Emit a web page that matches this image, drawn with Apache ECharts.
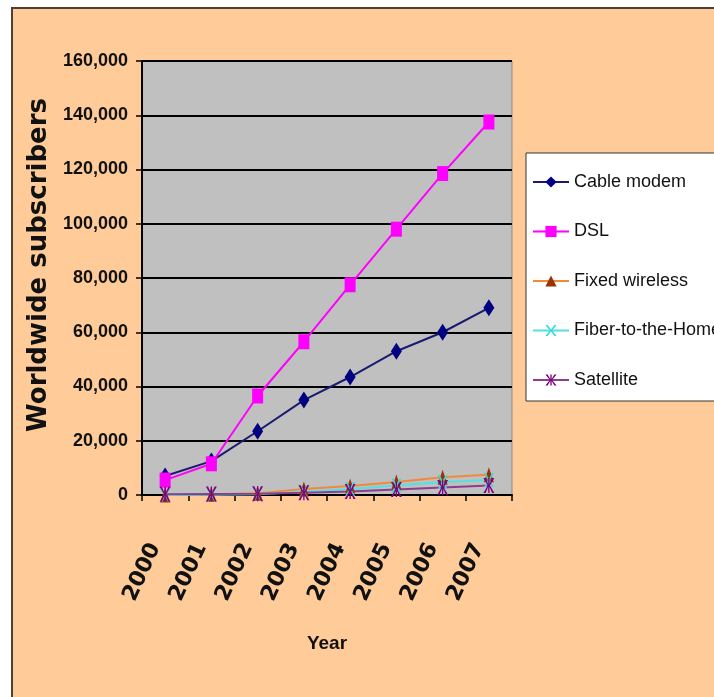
<!DOCTYPE html>
<html>
<head>
<meta charset="utf-8">
<script src="https://cdn.jsdelivr.net/npm/echarts@6/dist/echarts.min.js"></script>
<style>
  html, body { margin: 0; padding: 0; background: #fff; }
  .wrap { position: relative; width: 714px; height: 697px; overflow: hidden; background: #fff; }
  .frame {
    position: absolute; left: 11px; top: 7px; width: 800px; height: 800px;
    background: #FFCC99; border: 2px solid #4d4034;
  }
  #chart { position: absolute; left: 0; top: 0; width: 714px; height: 697px; }
</style>
</head>
<body>
<div class="wrap">
  <div class="frame"></div>
  <div id="chart"></div>
</div>
<script>
// years on the x axis
var years = ['2000', '2001', '2002', '2003', '2004', '2005', '2006', '2007']

// worldwide subscribers
var cableModem = [7000, 12500, 23500, 35000, 43500, 53000, 60000, 69000]
var dsl = [5500, 11500, 36500, 56500, 77500, 98000, 118500, 137500]
var fixedWireless = [0, 300, 600, 2200, 3300, 4800, 6500, 7500]
var fiberToHome = [0, 100, 300, 1200, 2200, 3500, 4800, 5500]
var satellite = [300, 400, 500, 800, 1300, 2000, 2800, 3500]

// marker shapes that echarts has no built-in for
var crossPath = 'path://M0,0 L2,0 L5,4.2 L8,0 L10,0 L6,5 L10,10 L8,10 L5,5.8 L2,10 L0,10 L4,5 Z'
var starPath = 'path://M0,0 L2,0 L4.4,4 L4.4,0 L5.6,0 L5.6,4 L8,0 L10,0 L6,5 L10,10 L8,10 L5.6,6 L5.6,10 L4.4,10 L4.4,6 L2,10 L0,10 L4,5 Z'

var narrow = "'Liberation Sans Narrow', 'Arial Narrow', 'Liberation Sans', Arial, sans-serif"
var wide = "'DejaVu Sans', sans-serif"

// the original text is tall and narrow; pick a size that gives the same width
var measureCtx = document.createElement('canvas').getContext('2d')
function fitSize(text, weight, family, width, maxSize) {
  measureCtx.font = weight + ' 100px ' + family
  var s = Math.round(100 * width / measureCtx.measureText(text).width * 2) / 2
  return Math.min(s, maxSize)
}
var tickSize = fitSize('160,000', 'bold', narrow, 65, 22)
var legendSize = fitSize('Cable modem', 'normal', narrow, 112, 22)
var yearSize = fitSize('Year', 'bold', narrow, 40, 26)

var chart = echarts.init(document.getElementById('chart'), null, { renderer: 'canvas' })

function lineSeries(name, data, color, lineColor, symbol, size) {
  return {
    name: name,
    type: 'line',
    data: data,
    symbol: symbol,
    symbolSize: size,
    showAllSymbol: true,
    itemStyle: { color: color },
    lineStyle: { color: lineColor, width: 2 },
    emphasis: { disabled: true },
    animation: false
  }
}

chart.setOption({
  backgroundColor: 'transparent',
  grid: {
    left: 142,
    right: 202,
    top: 61,
    bottom: 202,
    show: true,
    backgroundColor: '#C0C0C0',
    borderColor: '#8a8a8a',
    borderWidth: 1
  },
  legend: {
    orient: 'vertical',
    left: 526,
    top: 153,
    padding: [20, 40, 12, 6],
    itemGap: 49.5 - legendSize,
    itemWidth: 36,
    itemHeight: 14,
    backgroundColor: '#fff',
    borderColor: '#333',
    borderWidth: 1,
    textStyle: { fontFamily: narrow, fontSize: legendSize, color: '#111' },
    data: ['Cable modem', 'DSL', 'Fixed wireless', 'Fiber-to-the-Home', 'Satellite']
  },
  xAxis: {
    type: 'category',
    data: years,
    boundaryGap: true,
    name: 'Year',
    nameLocation: 'middle',
    nameGap: 139,
    nameTextStyle: { fontFamily: narrow, fontSize: yearSize, fontWeight: 'bold', color: '#111' },
    axisLine: { lineStyle: { color: '#000', width: 2 } },
    axisTick: { show: true, length: 6, inside: false, lineStyle: { color: '#000', width: 1.5 } },
    axisLabel: {
      rotate: 65,
      margin: 54,
      interval: 0,
      verticalAlign: 'bottom',
      fontFamily: wide,
      fontSize: 22,
      fontWeight: 'bold',
      color: '#111'
    },
    splitLine: { show: false }
  },
  yAxis: {
    type: 'value',
    min: 0,
    max: 160000,
    interval: 20000,
    name: 'Worldwide subscribers',
    nameLocation: 'middle',
    nameGap: 78,
    nameTextStyle: {
      fontFamily: wide, fontSize: 26, fontWeight: 'bold', color: '#111',
      padding: [0, 0, 0, 26]
    },
    axisLine: { show: true, lineStyle: { color: '#000', width: 2 } },
    axisTick: { show: true, length: 6, lineStyle: { color: '#000', width: 1.5 } },
    axisLabel: {
      margin: 14,
      fontFamily: narrow,
      fontSize: tickSize,
      fontWeight: 'bold',
      color: '#111',
      formatter: function (v) { return v.toLocaleString('en-US') }
    },
    splitLine: { show: true, lineStyle: { color: '#000', width: 2 } }
  },
  series: [
    lineSeries('Cable modem', cableModem, '#000080', '#1a1a6e', 'diamond', [11, 17]),
    lineSeries('DSL', dsl, '#FF00FF', '#FF00FF', 'rect', [11, 15]),
    lineSeries('Fixed wireless', fixedWireless, '#993300', '#F08A3A', 'triangle', [10, 15]),
    lineSeries('Fiber-to-the-Home', fiberToHome, '#33DDDD', '#55E0E0', crossPath, [10, 14]),
    lineSeries('Satellite', satellite, '#800080', '#8E3C8E', starPath, [11, 15])
  ]
})
</script>
</body>
</html>
